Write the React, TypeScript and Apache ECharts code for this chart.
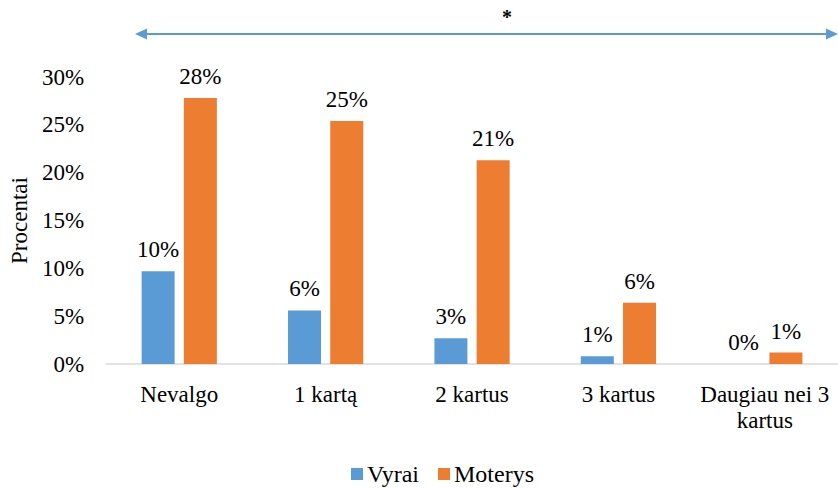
import React, { useEffect, useRef } from "react";
import * as echarts from "echarts";

const categories = ["Nevalgo", "1 kartą", "2 kartus", "3 kartus", "Daugiau nei 3 kartus"];
const vyrai = [9.7, 5.6, 2.7, 0.8, 0];
const moterys = [27.8, 25.4, 21.3, 6.4, 1.2];
const seriesNames = ["Vyrai", "Moterys"];
const colors = ["#5B9BD5", "#ED7D31"];

const FONT = "Liberation Serif";
const FS = 23;

export default function App() {
  const ref = useRef<HTMLDivElement>(null);
  useEffect(() => {
    if (!ref.current) return;
    const chart = echarts.init(ref.current, undefined, { renderer: "svg" });
    const labelCfg = {
      show: true,
      position: "top" as const,
      distance: 10,
      color: "#000",
      fontFamily: FONT,
      fontSize: FS,
      formatter: (p: any) => Math.round(p.value) + "%",
    };
    chart.setOption({
      animation: false,
      textStyle: { fontFamily: FONT },
      grid: { left: 105, right: -10, top: 77, bottom: 124, containLabel: false },
      xAxis: {
        type: "category",
        data: categories,
        axisLine: { lineStyle: { color: "#d9d9d9", width: 1.5 } },
        axisTick: { show: false },
        axisLabel: {
          color: "#000",
          fontFamily: FONT,
          fontSize: FS,
          margin: 17,
          lineHeight: 26,
          interval: 0,
          formatter: (v: string) => (v === "Daugiau nei 3 kartus" ? "Daugiau nei 3\nkartus" : v),
        },
      },
      yAxis: {
        type: "value",
        min: 0,
        max: 30,
        interval: 5,
        name: "Procentai",
        nameLocation: "middle",
        nameGap: 74,
        nameRotate: 90,
        nameTextStyle: { color: "#000", fontFamily: FONT, fontSize: FS },
        axisLine: { show: false },
        axisTick: { show: false },
        splitLine: { show: false },
        axisLabel: {
          color: "#000",
          fontFamily: FONT,
          fontSize: FS,
          margin: 22,
          formatter: (v: number) => v + "%",
        },
      },
      legend: {
        top: 462,
        left: 351,
        padding: 0,
        itemWidth: 12,
        itemHeight: 12,
        itemGap: 19,
        icon: "rect",
        textStyle: { color: "#000", fontFamily: FONT, fontSize: 24, padding: [0, 0, 0, -1] },
        data: seriesNames,
      },
      series: [
        {
          name: seriesNames[0],
          type: "bar",
          data: vyrai,
          itemStyle: { color: colors[0] },
          barWidth: 33,
          barGap: "28%",
          label: labelCfg,
        },
        {
          name: seriesNames[1],
          type: "bar",
          data: moterys,
          itemStyle: { color: colors[1] },
          barWidth: 33,
          barGap: "28%",
          label: labelCfg,
        },
      ],
      graphic: [
        {
          type: "line",
          shape: { x1: 145, y1: 34, x2: 828, y2: 34 },
          style: { stroke: "#5B9BD5", lineWidth: 2 },
        },
        {
          type: "polygon",
          shape: { points: [[135, 34], [147, 28.5], [147, 39.5]] },
          style: { fill: "#5B9BD5" },
        },
        {
          type: "polygon",
          shape: { points: [[838, 34], [826, 28.5], [826, 39.5]] },
          style: { fill: "#5B9BD5" },
        },
        {
          type: "text",
          x: 507,
          y: 17,
          style: {
            text: "*",
            fill: "#000",
            font: "bold 20px Liberation Serif",
            align: "center",
            verticalAlign: "middle",
          },
        },
      ],
    });
    return () => chart.dispose();
  }, []);
  return <div ref={ref} style={{ width: 838, height: 488, position: "absolute", left: 0, top: 0 }} />;
}
